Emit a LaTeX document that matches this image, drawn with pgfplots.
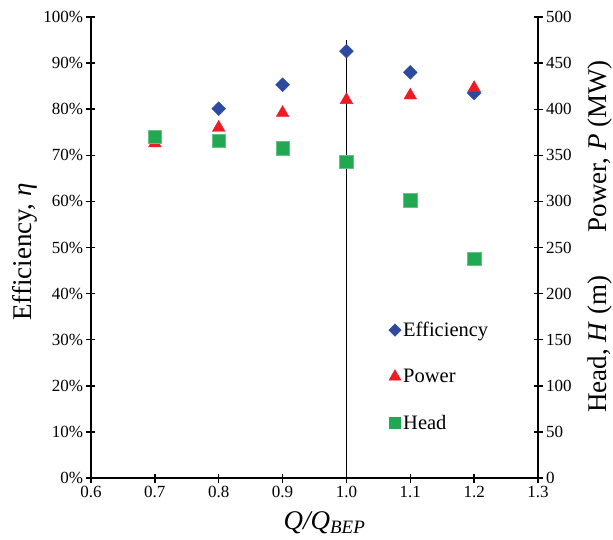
\documentclass[border=0pt]{standalone}
\usepackage{fontspec}
\setmainfont{Liberation Serif}
\usepackage{pgfplots}
\pgfplotsset{compat=1.18}
\definecolor{effblue}{RGB}{46,74,160}
\definecolor{powred}{RGB}{237,28,36}
\definecolor{headgreen}{RGB}{34,168,80}
\begin{document}
\begin{tikzpicture}
\pgfplotsset{
  common/.style={
    scale only axis, width=447pt, height=461pt,
    xmin=0.6, xmax=1.3,
    clip=false,
    tick align=center, major tick length=9pt,
    tick style={line width=1.4pt, black},
    axis line style={line width=1.4pt, black, -},
    /pgf/number format/assume math mode=true,
    tick label style={font=\fontsize{17}{20}\selectfont},
    label style={font=\fontsize{27}{32}\selectfont},
  }
}
\begin{axis}[common,
  ymin=0, ymax=100,
  axis x line*=bottom, axis y line*=left,
  xtick={0.6,0.7,0.8,0.9,1.0,1.1,1.2,1.3},
  xticklabel style={/pgf/number format/.cd, fixed, fixed zerofill, precision=1},
  ytick={0,10,20,30,40,50,60,70,80,90,100},
  yticklabel={\pgfmathprintnumber{\tick}\%},
  xlabel={\textit{Q/Q\textsubscript{BEP}}},
  ylabel={Efficiency, \textit{η}},
  ylabel style={at={(axis description cs:-0.147,0.49)}, anchor=center},
  xlabel style={at={(axis description cs:0.5,-0.098)}, anchor=center, xshift=10pt},
]
\coordinate (bl) at (rel axis cs:0,0);
\coordinate (tr) at (rel axis cs:1,1);
\addplot[black, line width=1.8pt] coordinates {(1.0,0) (1.0,95)};
\addplot[only marks, mark=square*, mark size=4.9pt, mark options={rotate=45, fill=effblue, draw=effblue}]
  coordinates {(0.8,80.1) (0.9,85.3) (1.0,92.6) (1.1,88.0) (1.2,83.5)};
\end{axis}
\begin{axis}[common,
  ymin=0, ymax=500,
  hide x axis, axis y line*=right,
  ytick={0,50,100,150,200,250,300,350,400,450,500},
  legend style={at={(rel axis cs:0.659,0.347)}, anchor=north west, draw=none, fill=none,
    font=\fontsize{20.5}{24}\selectfont, row sep=27pt},
  legend cell align=left,
  legend image code/.code={\draw[mark repeat=2,mark phase=2] plot coordinates {(0pt,0pt)(6pt,0pt)(12pt,0pt)};},
]
\addlegendimage{only marks, mark=square*, mark size=4.4pt, mark options={rotate=45, fill=effblue, draw=effblue}}
\addlegendentry{Efficiency}
\addlegendimage{only marks, mark=triangle*, mark size=7pt, mark options={fill=powred, draw=powred}}
\addlegendentry{Power}
\addlegendimage{only marks, mark=square*, mark size=5.6pt, mark options={fill=headgreen, draw=headgreen}}
\addlegendentry{Head}
\addplot[forget plot, only marks, mark=triangle*, mark size=7.3pt, mark options={fill=powred, draw=powred}]
  coordinates {(0.7,363) (0.8,380) (0.9,396) (1.0,410) (1.1,415) (1.2,423)};
\addplot[forget plot, only marks, mark=square*, mark size=6.8pt, mark options={fill=headgreen, draw=headgreen!70!white}]
  coordinates {(0.7,370) (0.8,366) (0.9,358) (1.0,343) (1.1,301) (1.2,238)};
\node[rotate=90, font=\fontsize{27}{32}\selectfont] at (rel axis cs:1.139,0.72) {Power, \textit{P} (MW)};
\node[rotate=90, font=\fontsize{27}{32}\selectfont] at (rel axis cs:1.139,0.29) {Head, \textit{H} (m)};
\end{axis}
\pgfresetboundingbox
\path[use as bounding box] ([xshift=-91pt,yshift=-61pt]bl) rectangle ([xshift=75pt,yshift=17pt]tr);
\end{tikzpicture}
\end{document}
